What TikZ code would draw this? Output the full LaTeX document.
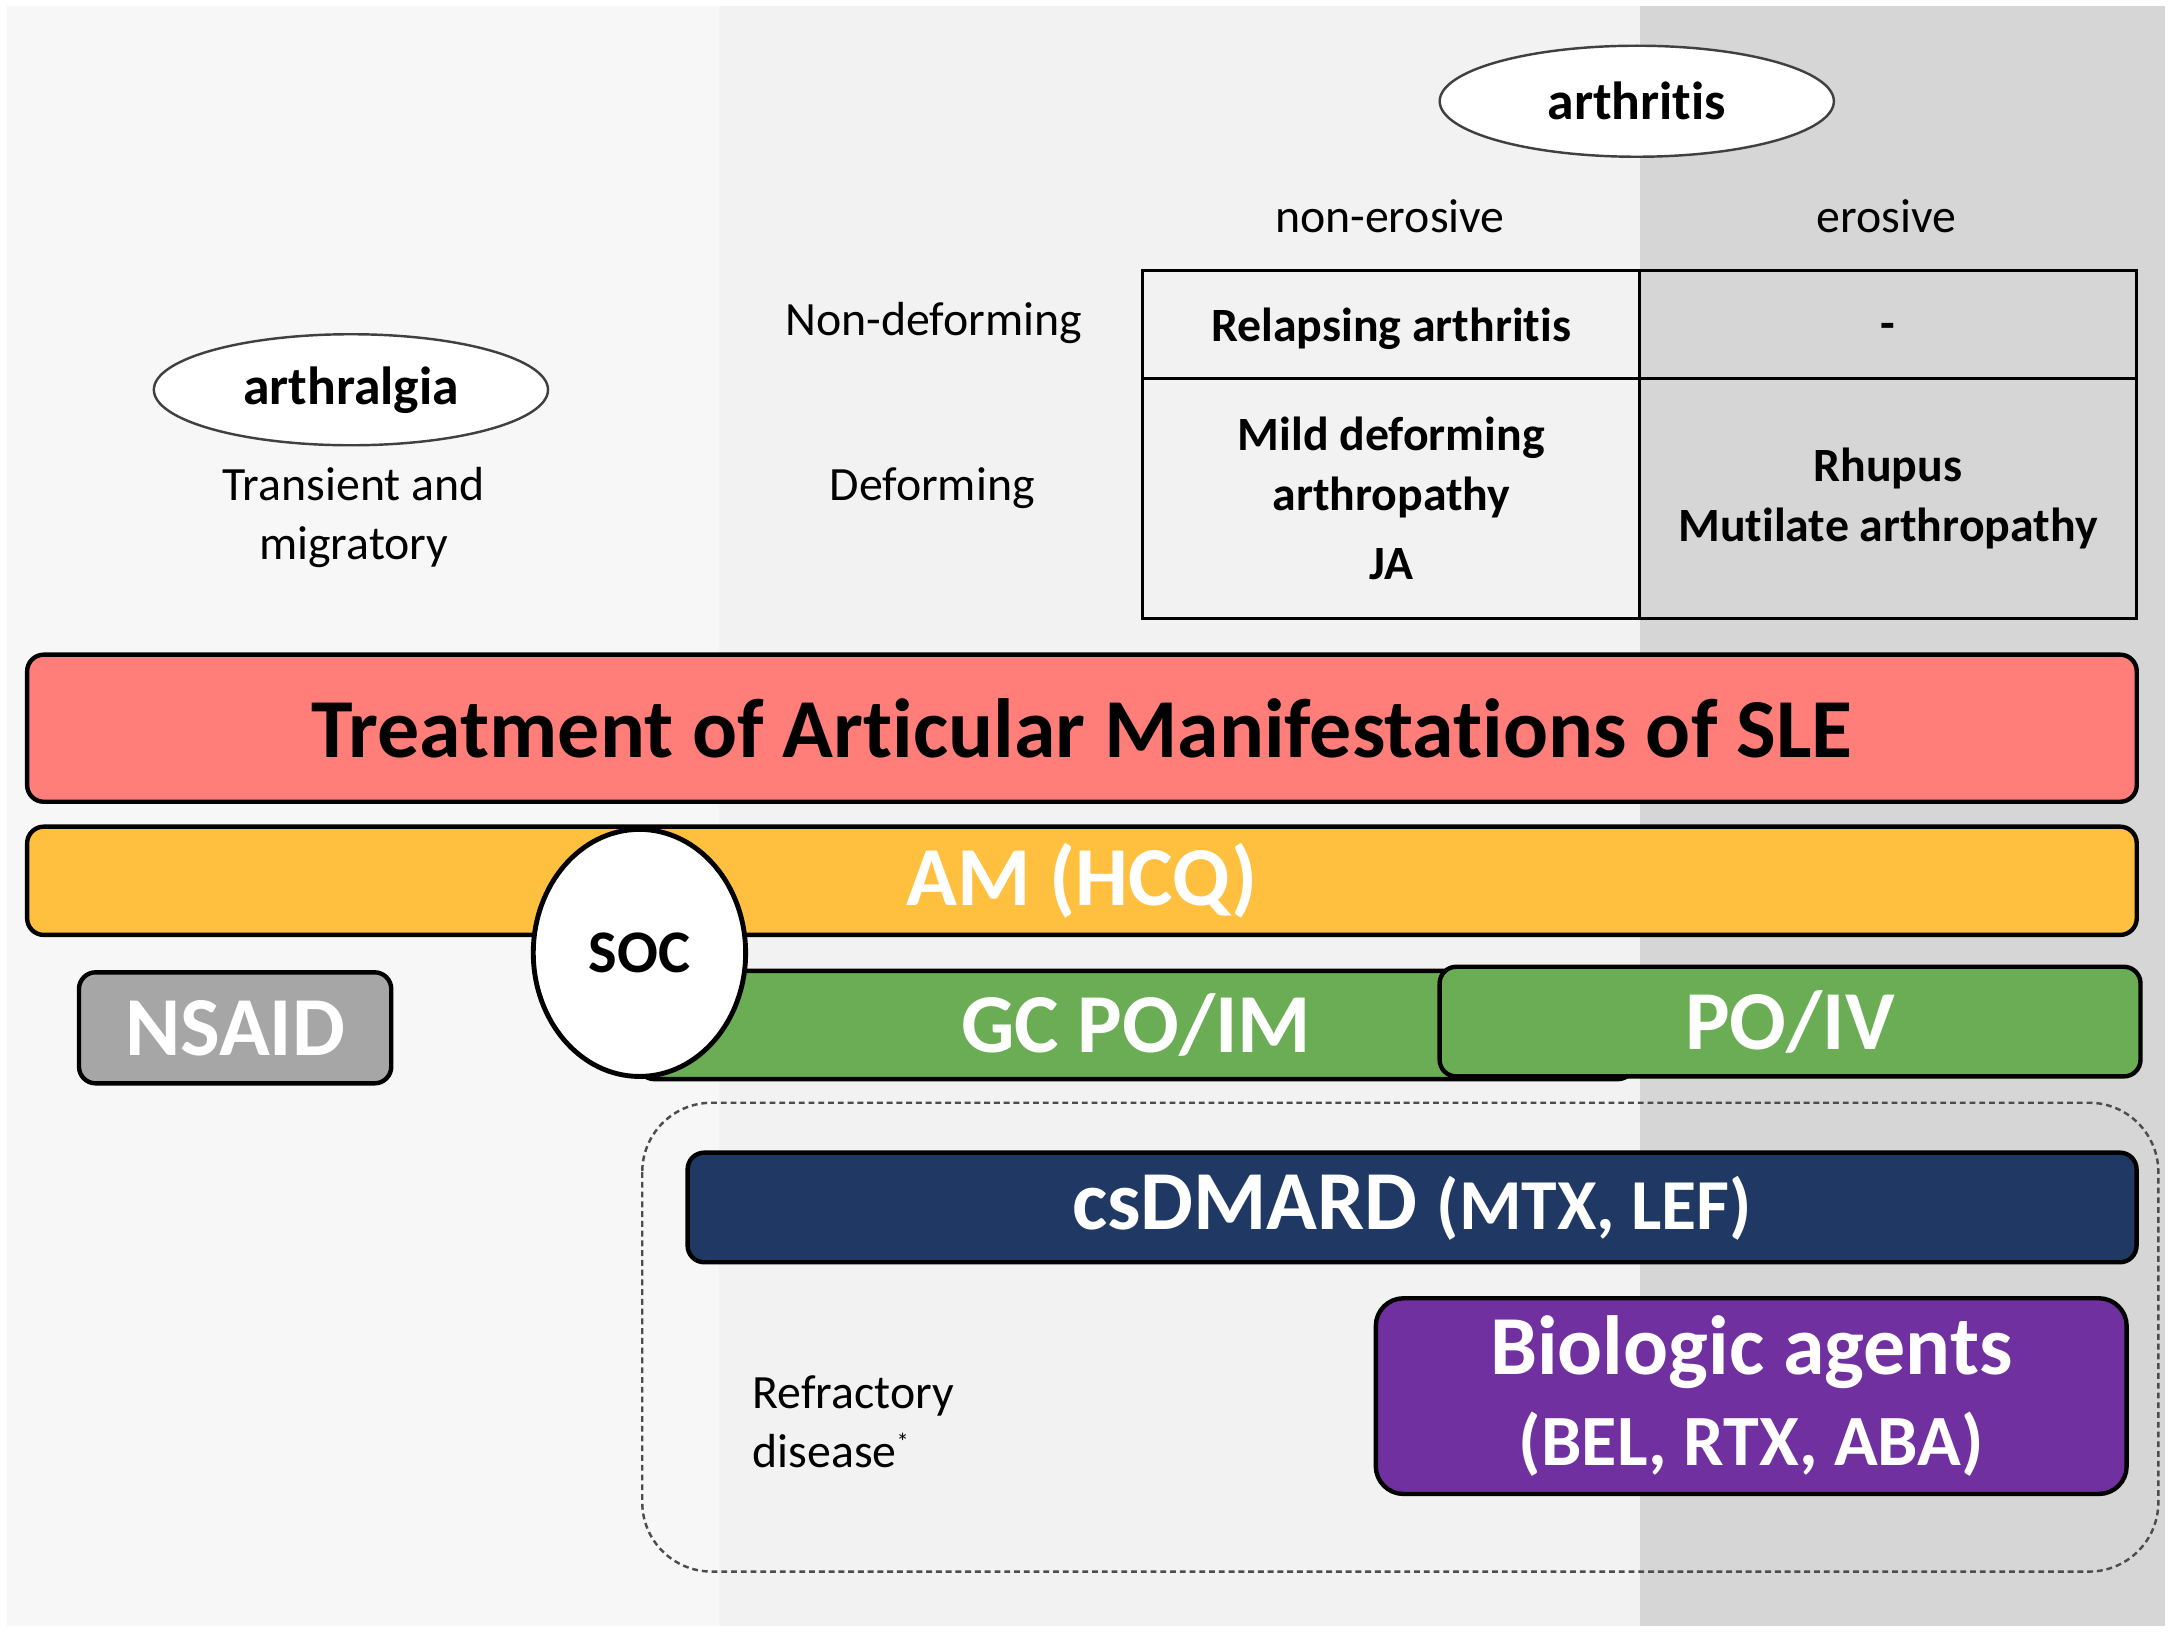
\documentclass[tikz,border=0pt]{standalone}
\usepackage{fontspec}
\setmainfont{Carlito}[Ligatures=NoCommon]
\usepackage{tikz}
\usetikzlibrary{shapes.geometric}

\definecolor{bgleft}{RGB}{247,247,247}
\definecolor{bgmid}{RGB}{242,242,242}
\definecolor{bgright}{RGB}{215,214,215}
\definecolor{sledred}{RGB}{255,126,121}
\definecolor{amyellow}{RGB}{255,192,63}
\definecolor{gcgreen}{RGB}{106,173,85}
\definecolor{nsgray}{RGB}{166,166,166}
\definecolor{dmnavy}{RGB}{31,56,100}
\definecolor{biopurple}{RGB}{112,48,160}

\begin{document}
\begin{tikzpicture}[x=0.01cm,y=-0.01cm,
    txt/.style={font=\fontsize{9.8}{12.2}\selectfont, align=center},
    cell/.style={draw, line width=0.6pt, inner sep=0pt, minimum width=3.58cm,
        font=\bfseries\fontsize{9.8}{12.2}\selectfont, align=center},
    oval/.style={ellipse, draw=black!75, line width=0.5pt, fill=white,
        minimum width=2.84cm, minimum height=0.8cm, inner sep=0pt,
        font=\bfseries\fontsize{11}{13}\selectfont},
    bar/.style={draw, line width=0.9pt, rounded corners=0.12cm, inner sep=0pt,
        text=white, font=\bfseries\fontsize{17.2}{20}\selectfont}]
        \useasboundingbox (0,0) rectangle (1568,1177);
        \fill[white] (0,0) rectangle (1568,1177);
        % background panels
        \fill[bgleft] (5,4) rectangle (518,1172);
        \fill[bgmid] (518,4) rectangle (1182,1172);
        \fill[bgright] (1182,4) rectangle (1561,1172);

        % headings
        \node[oval] (arthralgia) at (253,281) {arthralgia};
        \node[txt] (transient) at (255,373) {Transient and\\migratory};
        \node[oval] (arthritis) at (1180,73) {arthritis};
        \node[txt] (nonero) at (1002,156) {non-erosive};
        \node[txt] (ero) at (1360,156) {erosive};
        \node[txt] (nondef) at (673,233) {Non-deforming};
        \node[txt] (def) at (672,352) {Deforming};

        % table
        \node[cell, minimum height=0.78cm, text depth=0pt] (relapsing) at (1003,234) {Relapsing arthritis};
        \node[cell, minimum height=0.78cm, text height=7pt, text depth=1pt] (none) at (1361,234) {-};
        \node[cell, minimum height=1.73cm] (mild) at (1003,359.5) {Mild deforming\\arthropathy\\[2pt]JA};
        \node[cell, minimum height=1.73cm] (rhupus) at (1361,359.5) {Rhupus\\Mutilate arthropathy};

        % treatment bars
        \node[bar, fill=sledred, text=black, minimum width=15.2cm, minimum height=1.06cm] (title) at (780,525)
            {Treatment of Articular Manifestations of SLE};
        \node[bar, fill=amyellow, minimum width=15.2cm, minimum height=0.78cm] (am) at (780,635) {AM (HCQ)};
        \node[bar, fill=gcgreen, minimum width=7.18cm, minimum height=0.78cm] (gc) at (819,739) {GC PO/IM};
        \node[bar, fill=gcgreen, minimum width=5.05cm, minimum height=0.79cm] (poiv) at (1290.5,736.5) {PO/IV};
        \node[bar, fill=nsgray, minimum width=2.25cm, minimum height=0.8cm] (nsaid) at (169.5,741) {NSAID};
        \node[ellipse, draw, line width=1pt, fill=white, minimum width=1.53cm, minimum height=1.78cm,
            inner sep=0pt, font=\bfseries\fontsize{12.4}{14}\selectfont] (soc) at (461,687) {SOC};

        % refractory disease
        \draw[black!70, line width=0.5pt, dash pattern=on 1.2pt off 0.8pt, rounded corners=0.5cm]
            (463,795) rectangle (1556,1133);
        \node[bar, fill=dmnavy, minimum width=10.44cm, minimum height=0.79cm] (dmard) at (1018,870.5)
            {csDMARD {\fontsize{14.7}{17}\selectfont(MTX, LEF)}};
        \node[bar, fill=biopurple, rounded corners=0.2cm, minimum width=5.41cm, minimum height=1.41cm,
            align=center, font=\bfseries\fontsize{17.2}{18.5}\selectfont] (bio) at (1262.5,1006.5)
            {Biologic agents\\{\fontsize{14.8}{18.5}\selectfont(BEL, RTX, ABA)}};
        \node[txt, align=left, anchor=west, inner sep=0pt] (refr) at (542,1025)
            {Refractory\\disease\textsuperscript{\tiny *}};
    \end{tikzpicture}
\end{document}
